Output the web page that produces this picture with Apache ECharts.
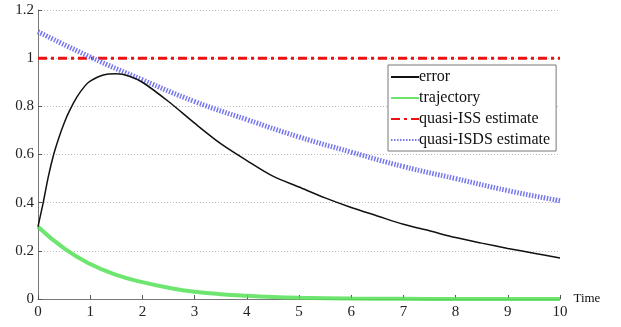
<!DOCTYPE html>
<html>
<head>
<meta charset="utf-8">
<script src="https://cdn.jsdelivr.net/npm/echarts@6/dist/echarts.min.js"></script>
<style>
html, body { margin: 0; padding: 0; background: #fff; }
#main { width: 621px; height: 327px; }
</style>
</head>
<body>
<div id="main"></div>
<script>
// values
var errT = [0, 0.05, 0.1, 0.2, 0.3, 0.4, 0.5, 0.6, 0.75, 0.9, 1, 1.25, 1.5, 1.75, 2, 2.5, 3, 3.5, 4, 4.5, 5, 5.5, 6, 6.5, 7, 7.5, 8, 8.5, 9, 9.5, 10];
var errV = [0.30, 0.35, 0.40, 0.51, 0.60, 0.67, 0.73, 0.78, 0.84, 0.885, 0.905, 0.93, 0.935, 0.925, 0.90, 0.82, 0.73, 0.645, 0.575, 0.51, 0.465, 0.42, 0.38, 0.345, 0.31, 0.283, 0.255, 0.232, 0.21, 0.19, 0.17];

var trajT = [0, 0.5, 1, 1.5, 2, 2.5, 3, 3.5, 4, 4.5, 5, 6, 7, 8, 9, 10];
var trajV = [0.30, 0.21, 0.145, 0.10, 0.07, 0.047, 0.03, 0.02, 0.013, 0.008, 0.005, 0.002, 0.001, 0, 0, 0];

var issT = [0, 10];
var issV = [1, 1];

var isdsT = [0, 1, 2, 3, 4, 5, 6, 7, 8, 9, 10];
var isdsV = [1.11, 1.005, 0.91, 0.82, 0.745, 0.673, 0.61, 0.55, 0.50, 0.45, 0.408];

var names = ['error', 'trajectory', 'quasi-ISS estimate', 'quasi-ISDS estimate'];

function pairs(t, v) {
	var out = [];
	for (var i = 0; i < t.length; i++) out.push([t[i], v[i]]);
	return out;
}

var serif = '"Liberation Serif", "DejaVu Serif", serif';

var myChart = echarts.init(document.getElementById('main'));
var option = {
	animation: false,
	grid: {
		left: 38,
		right: 61,
		top: 10,
		bottom: 28
	},
	legend: {
		data: names,
		orient: 'vertical',
		left: 388,
		top: 65,
		itemWidth: 28,
		itemHeight: 14,
		itemGap: 5,
		padding: [4, 6, 3, 2],
		backgroundColor: '#fff',
		borderColor: '#777',
		borderWidth: 1,
		itemStyle: { opacity: 0 },
		textStyle: {
			fontFamily: serif,
			fontSize: 16,
			lineHeight: 16,
			color: '#111',
			padding: [0, 0, 0, -5]
		}
	},
	xAxis: {
		type: 'value',
		min: 0,
		max: 10,
		interval: 1,
		name: 'Time',
		nameLocation: 'end',
		nameGap: 8,
		nameTextStyle: {
			fontFamily: serif,
			fontSize: 13,
			color: '#111',
			padding: [0, 0, 14, 0]
		},
		splitLine: { show: false },
		axisLine: { lineStyle: { color: '#777', width: 1 } },
		axisTick: { inside: true, length: 4, lineStyle: { color: '#555' } },
		axisLabel: {
			fontFamily: serif,
			fontSize: 15,
			color: '#222',
			margin: 6
		}
	},
	yAxis: {
		type: 'value',
		min: 0,
		max: 1.2,
		interval: 0.2,
		splitLine: {
			show: true,
			lineStyle: { color: '#bbb', type: [1, 2], width: 1 }
		},
		axisLine: { show: true, lineStyle: { color: '#777', width: 1 } },
		axisTick: { show: true, inside: true, length: 4, lineStyle: { color: '#555' } },
		axisLabel: {
			fontFamily: serif,
			fontSize: 15,
			color: '#222',
			margin: 4
		}
	},
	series: [
		{
			name: names[0],
			type: 'line',
			smooth: 0.3,
			showSymbol: false,
			symbol: 'none',
			data: pairs(errT, errV),
			lineStyle: { color: '#111', width: 1.5 },
			itemStyle: { color: '#111' },
			z: 4
		},
		{
			name: names[1],
			type: 'line',
			smooth: true,
			showSymbol: false,
			symbol: 'none',
			data: pairs(trajT, trajV),
			lineStyle: { color: '#55e055', width: 4, opacity: 0.85 },
			itemStyle: { color: '#55e055' },
			z: 3
		},
		{
			name: names[2],
			type: 'line',
			showSymbol: false,
			symbol: 'none',
			data: pairs(issT, issV),
			lineStyle: { color: '#ee1111', width: 3, type: [9, 4, 3, 4] },
			itemStyle: { color: '#ee1111' },
			z: 2
		},
		{
			name: names[3],
			type: 'line',
			smooth: true,
			showSymbol: false,
			symbol: 'none',
			data: pairs(isdsT, isdsV),
			lineStyle: { color: '#7777ee', width: 5, type: [1.5, 1.5] },
			itemStyle: { color: '#7777ee' },
			z: 2
		}
	]
};
myChart.setOption(option);
</script>
</body>
</html>
